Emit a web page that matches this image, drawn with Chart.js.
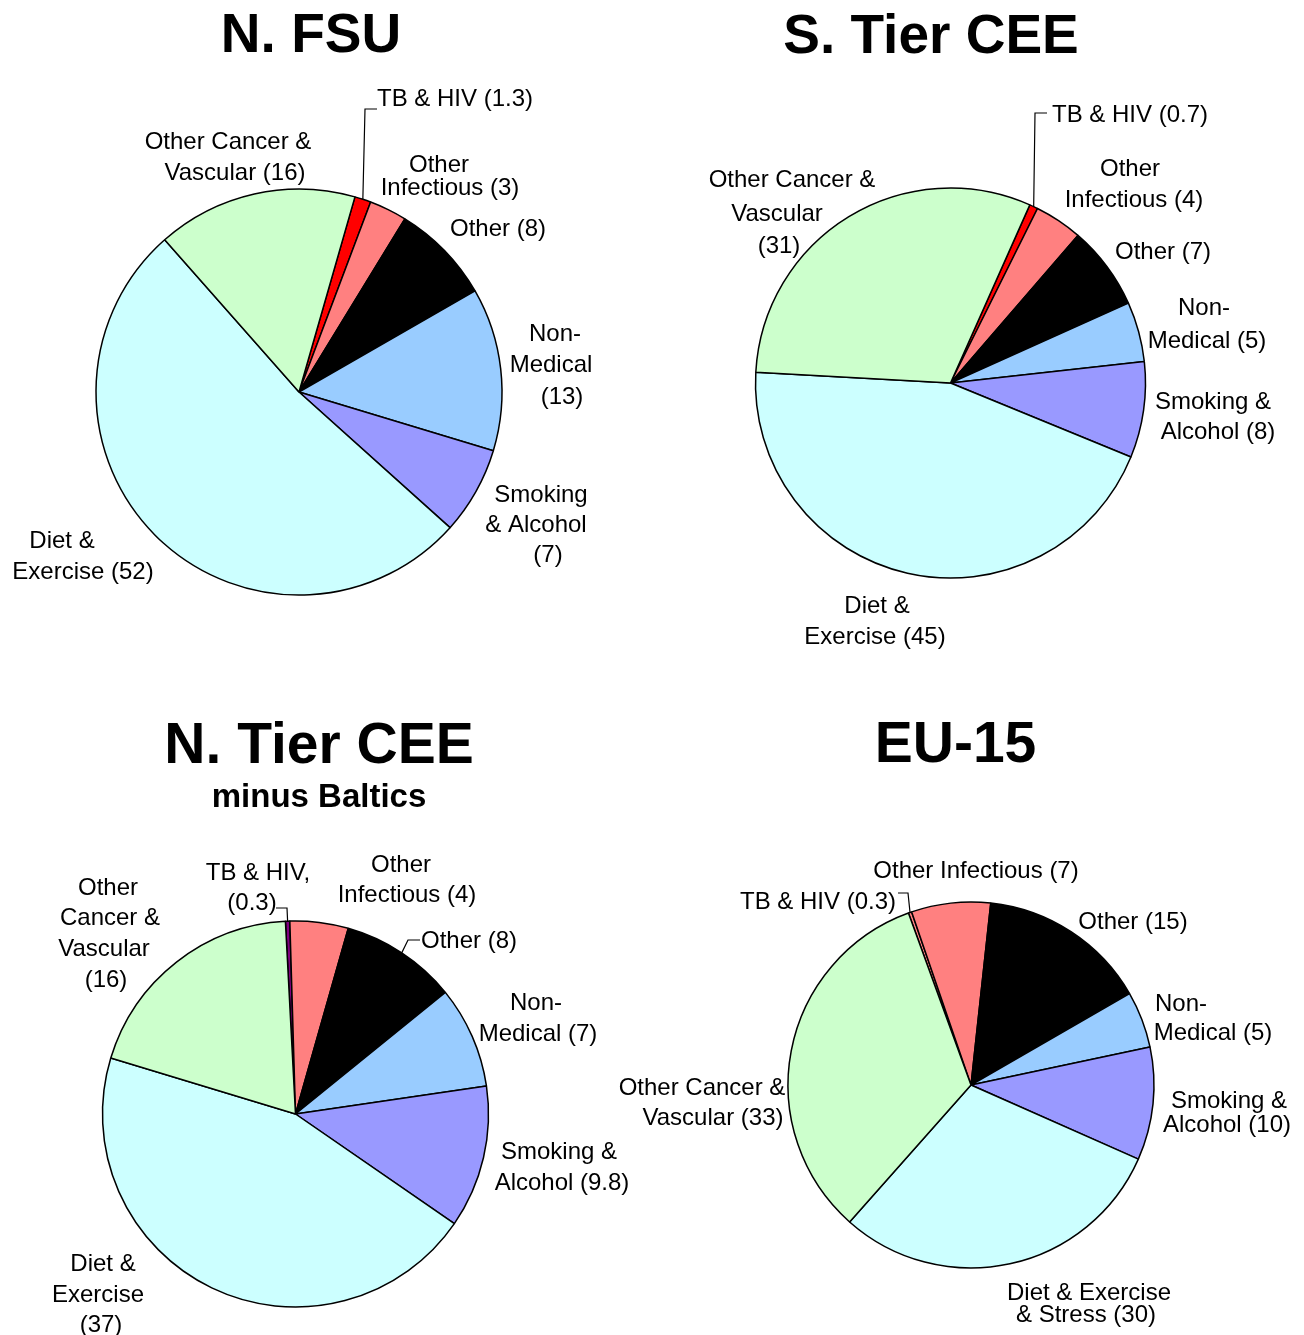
<!DOCTYPE html>
<html>
<head>
<meta charset="utf-8">
<script src="https://cdn.jsdelivr.net/npm/chart.js@4.4.1/dist/chart.umd.min.js"></script>
<style>
  body { margin: 0; background: #fff; }
  #wrap { position: relative; width: 1304px; height: 1335px; }
  #wrap canvas { position: absolute; left: 0; top: 0; }
</style>
</head>
<body>
<div id="wrap">
  <canvas id="fsu" width="1304" height="1335"></canvas>
  <canvas id="stier" width="1304" height="1335"></canvas>
  <canvas id="ntier" width="1304" height="1335"></canvas>
  <canvas id="eu15" width="1304" height="1335"></canvas>
</div>
<script>
// slices, clockwise from the top
const categories = ['TB & HIV', 'Other Infectious', 'Other', 'Non-Medical',
                    'Smoking & Alcohol', 'Diet & Exercise', 'Other Cancer & Vascular'];
const fsuValues   = [1.3, 3, 8, 13, 7, 52, 16];
const sTierValues = [0.7, 4, 7, 5, 8, 45, 31];
const nTierValues = [0.3, 4, 8, 7, 9.8, 37, 16];
const eu15Values  = [0.3, 7, 15, 5, 10, 30, 33];

const sliceColors = ['#FF0000', '#FF8080', '#000000', '#99CCFF', '#9999FF', '#CCFFFF', '#CCFFCC'];

const W = 1304, H = 1335;
const FONT = '"Liberation Sans", Arial, sans-serif';

// draws titles, slice labels and leader lines
const pieText = {
  id: 'pieText',
  afterDraw(chart, args, opts) {
    const ctx = chart.ctx;
    const vals = chart.data.datasets[0].data;
    const meta = chart.getDatasetMeta(0);
    ctx.save();
    ctx.fillStyle = '#000';
    ctx.textAlign = 'center';
    ctx.textBaseline = 'alphabetic';
    opts.titles.forEach(t => {
      ctx.font = 'bold ' + t.size + 'px ' + FONT;
      ctx.fillText(t.text, t.x, t.y + 0.358 * t.size);
    });
    ctx.font = '24px ' + FONT;
    opts.labels.forEach((lab, i) => {
      lab.lines.forEach(l => {
        ctx.fillText(l[0].replace('{v}', vals[i]), l[1], l[2] + 0.36 * 24);
      });
      if (lab.leader) {
        const arc = meta.data[i];
        const mid = (arc.startAngle + arc.endAngle) / 2;
        ctx.beginPath();
        ctx.moveTo(arc.x + Math.cos(mid) * arc.outerRadius, arc.y + Math.sin(mid) * arc.outerRadius);
        lab.leader.forEach(p => ctx.lineTo(p[0], p[1]));
        ctx.strokeStyle = '#000';
        ctx.lineWidth = 1.2;
        ctx.stroke();
      }
    });
    ctx.restore();
  }
};

function makePie(id, values, tbColor, geo, titles, labels) {
  const colors = sliceColors.slice();
  colors[0] = tbColor;
  const pad = {
    left: geo.cx * 2 > W ? geo.cx * 2 - W : 0,
    right: geo.cx * 2 > W ? 0 : W - geo.cx * 2,
    top: geo.cy * 2 > H ? geo.cy * 2 - H : 0,
    bottom: geo.cy * 2 > H ? 0 : H - geo.cy * 2
  };
  new Chart(document.getElementById(id), {
    type: 'pie',
    data: {
      labels: categories,
      datasets: [{
        data: values,
        backgroundColor: colors,
        borderColor: '#000000',
        borderWidth: 1.5,
        hoverOffset: 0
      }]
    },
    options: {
      responsive: false,
      animation: false,
      events: [],
      rotation: geo.rot,
      radius: geo.r,
      layout: { padding: pad },
      plugins: {
        legend: { display: false },
        tooltip: { enabled: false },
        pieText: { titles: titles, labels: labels }
      }
    },
    plugins: [pieText]
  });
}

makePie('fsu', fsuValues, '#FF0000', { cx: 299, cy: 392, r: 203, rot: 16 },
  [{ text: 'N. FSU', x: 311, y: 32, size: 55 }],
  [
    { lines: [['TB & HIV ({v})', 455, 97]], leader: [[365, 109], [377, 109]] },
    { lines: [['Other', 439, 163], ['Infectious ({v})', 450, 186]] },
    { lines: [['Other ({v})', 498, 227]] },
    { lines: [['Non-', 555, 332], ['Medical', 551, 363], ['({v})', 562, 395]] },
    { lines: [['Smoking', 541, 493], ['& Alcohol', 536, 523], ['({v})', 548, 553]] },
    { lines: [['Diet &', 62, 539], ['Exercise ({v})', 83, 570]] },
    { lines: [['Other Cancer &', 228, 140], ['Vascular ({v})', 235, 171]] }
  ]);

makePie('stier', sTierValues, '#FF0000', { cx: 950.5, cy: 383, r: 195, rot: 24 },
  [{ text: 'S. Tier CEE', x: 931, y: 33, size: 55 }],
  [
    { lines: [['TB & HIV ({v})', 1130, 113]], leader: [[1035, 113], [1047, 113]] },
    { lines: [['Other', 1130, 167], ['Infectious ({v})', 1134, 198]] },
    { lines: [['Other ({v})', 1163, 250]] },
    { lines: [['Non-', 1204, 306], ['Medical ({v})', 1207, 339]] },
    { lines: [['Smoking &', 1213, 400], ['Alcohol ({v})', 1218, 430]] },
    { lines: [['Diet &', 877, 604], ['Exercise ({v})', 875, 635]] },
    { lines: [['Other Cancer &', 792, 178], ['Vascular', 777, 212], ['({v})', 779, 244]] }
  ]);

makePie('ntier', nTierValues, '#800080', { cx: 295.5, cy: 1114, r: 193, rot: -3 },
  [{ text: 'N. Tier CEE', x: 319, y: 743, size: 57 },
   { text: 'minus Baltics', x: 319, y: 795, size: 33 }],
  [
    { lines: [['TB & HIV,', 258, 871], ['({v})', 252, 901]], leader: [[287, 908], [276, 908]] },
    { lines: [['Other', 401, 863], ['Infectious ({v})', 407, 893]] },
    { lines: [['Other ({v})', 469, 939]], leader: [[408, 940], [420, 940]] },
    { lines: [['Non-', 536, 1001], ['Medical ({v})', 538, 1032]] },
    { lines: [['Smoking &', 559, 1150], ['Alcohol ({v})', 562, 1181]] },
    { lines: [['Diet &', 103, 1262], ['Exercise', 98, 1293], ['({v})', 101, 1323]] },
    { lines: [['Other', 108, 886], ['Cancer &', 110, 916], ['Vascular', 104, 947], ['({v})', 106, 978]] }
  ]);

makePie('eu15', eu15Values, '#FF8080', { cx: 971, cy: 1085, r: 183, rot: -20 },
  [{ text: 'EU-15', x: 955.5, y: 742, size: 57 }],
  [
    { lines: [['TB & HIV ({v})', 818, 900]], leader: [[908, 893], [898, 893]] },
    { lines: [['Other Infectious ({v})', 976, 869]] },
    { lines: [['Other ({v})', 1133, 920]] },
    { lines: [['Non-', 1181, 1002], ['Medical ({v})', 1213, 1031]] },
    { lines: [['Smoking &', 1229, 1099], ['Alcohol ({v})', 1227, 1123]] },
    { lines: [['Diet & Exercise', 1089, 1291], ['& Stress ({v})', 1086, 1313]] },
    { lines: [['Other Cancer &', 702, 1086], ['Vascular ({v})', 713, 1116]] }
  ]);
</script>
</body>
</html>
